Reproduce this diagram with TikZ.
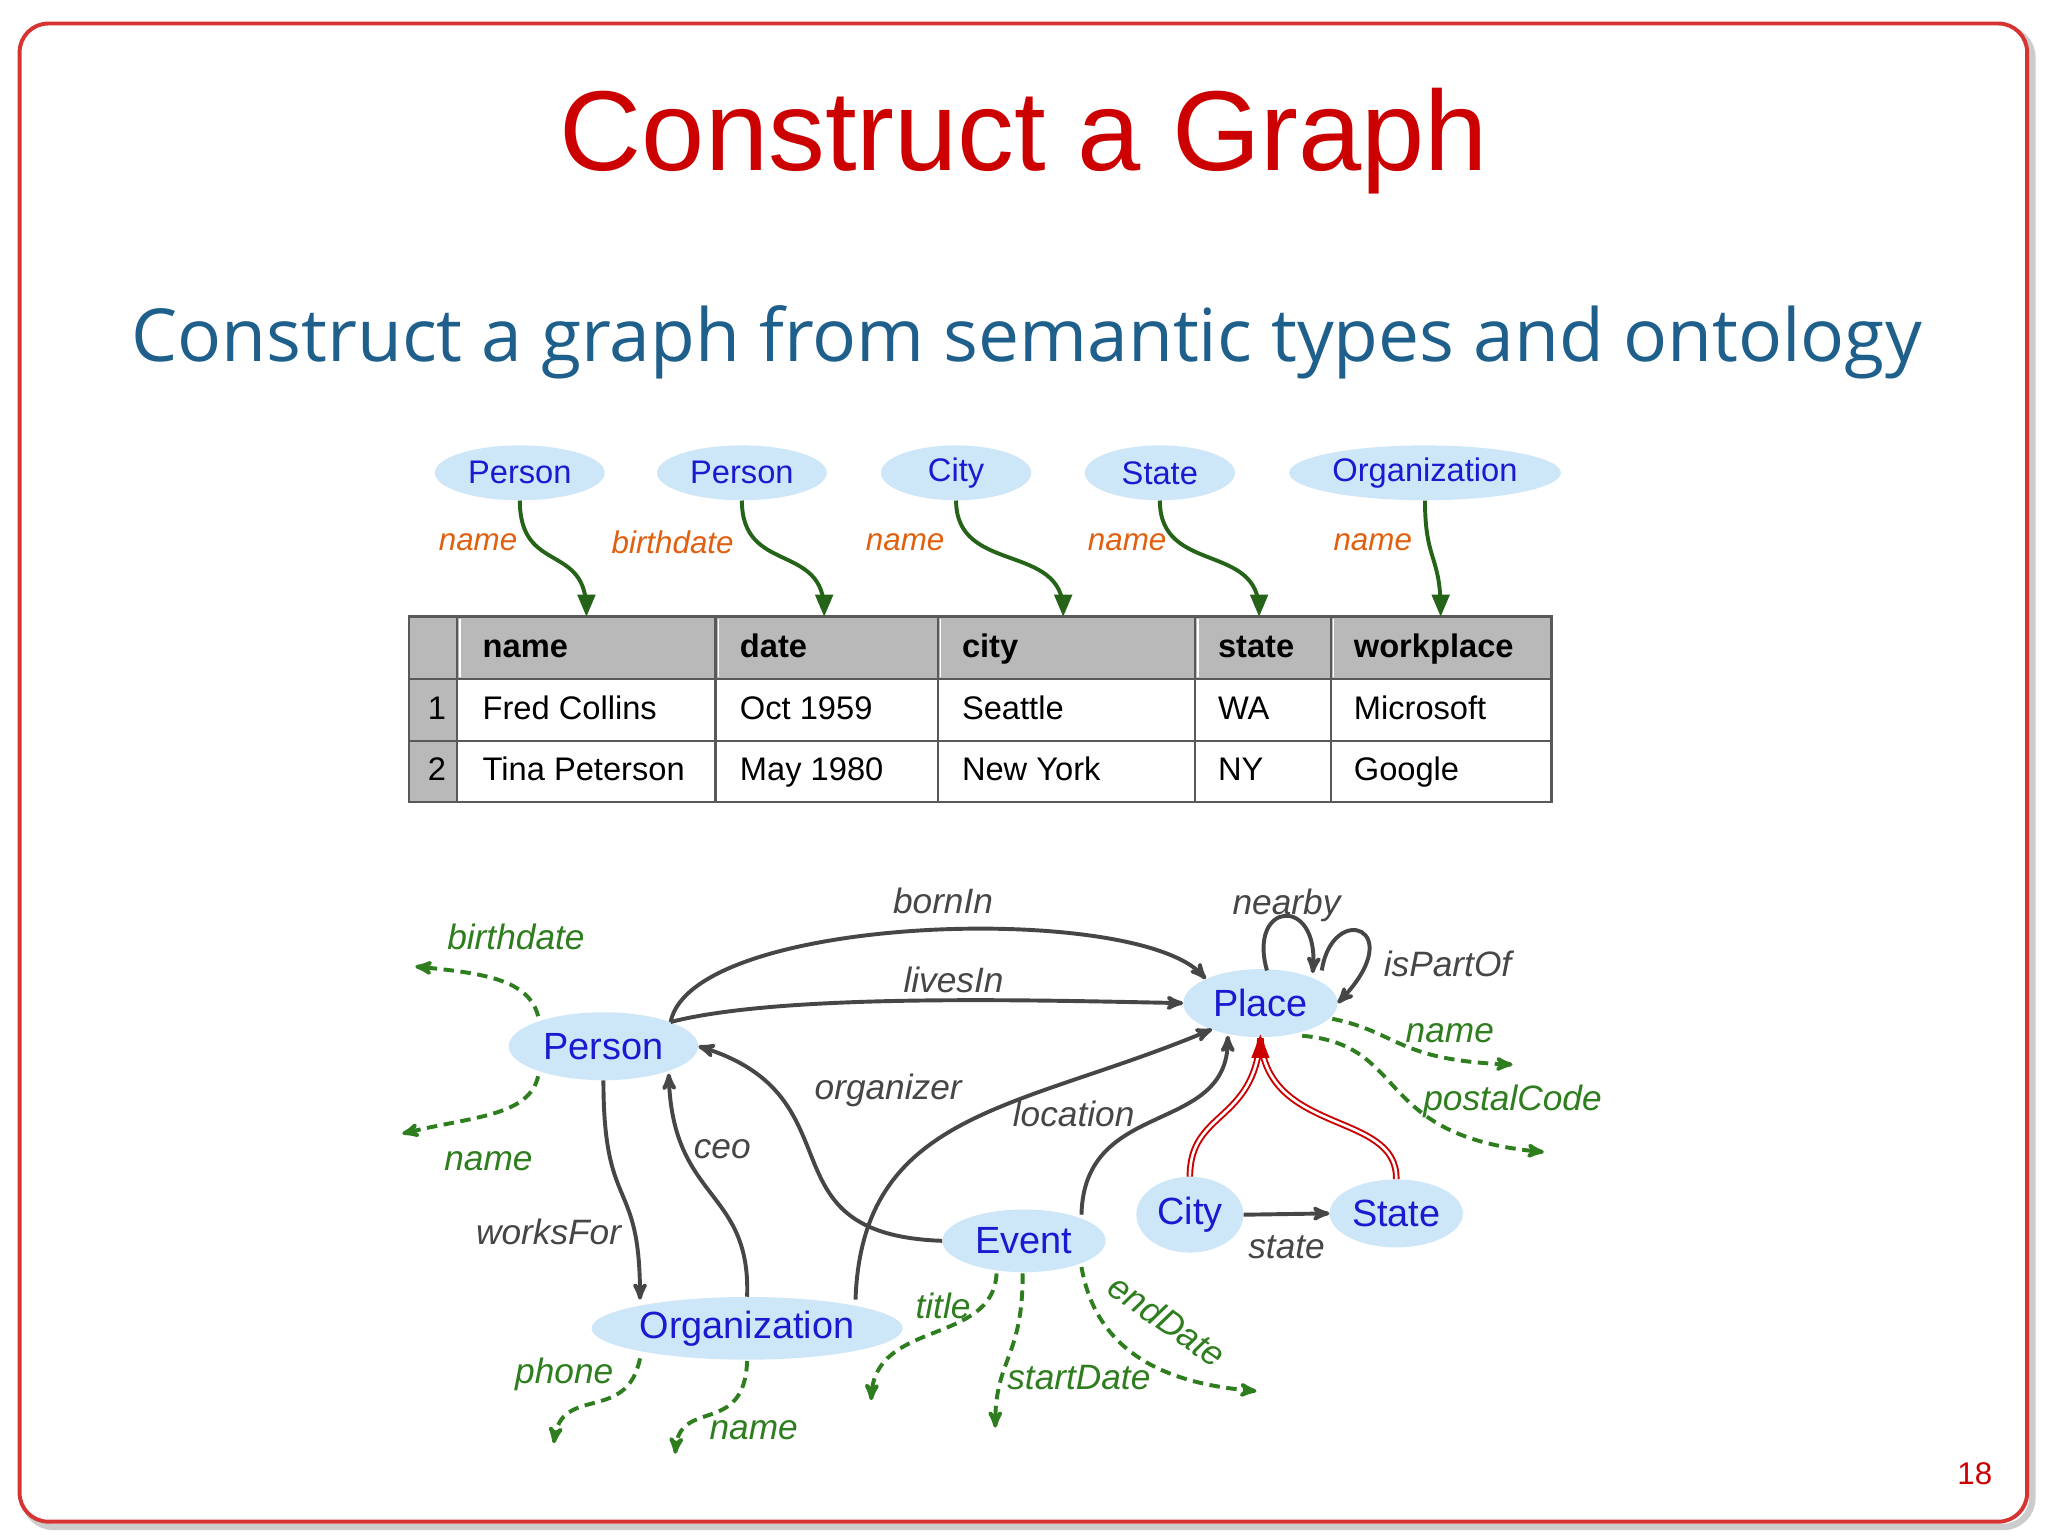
\documentclass[tikz,border=0pt]{standalone}
\usepackage{fontspec}
\setmainfont{Liberation Sans}
\newfontfamily\subfont{Open Sans}
\usetikzlibrary{calc,arrows,positioning,shapes.geometric}
\definecolor{nodefill}{HTML}{CDE6F8}
\definecolor{nodetext}{HTML}{1A1AD0}
\definecolor{edgegray}{HTML}{464646}
\definecolor{propgreen}{HTML}{2E7D1E}
\definecolor{typeorange}{HTML}{E06010}
\definecolor{titlered}{HTML}{CC0000}
\definecolor{subblue}{HTML}{1F5F8B}
\tikzset{
    >=stealth',
    semtype/.style={
        ellipse,
        fill=nodefill,
        text=nodetext,
        inner sep=1pt,
        font=\fontsize{25}{28}\selectfont
    },
    gnode/.style={
        ellipse,
        fill=nodefill,
        text=nodetext,
        inner sep=2pt,
        font=\fontsize{29}{32}\selectfont
    },
    edge/.style={draw=edgegray, line width=3pt, ->},
    prop/.style={draw=propgreen, line width=3pt, dashed, dash pattern=on 8pt off 5pt, ->},
    map/.style={draw=propgreen!80!black, line width=3pt, -triangle 45},
    elbl/.style={text=edgegray, font=\itshape\fontsize{27}{30}\selectfont},
    plbl/.style={text=propgreen, font=\itshape\fontsize{27}{30}\selectfont},
    tlbl/.style={text=typeorange, font=\itshape\fontsize{24}{28}\selectfont},
    cell/.style={anchor=west, text height=18pt, text depth=5pt, font=\fontsize{25}{28}\selectfont}
}
\begin{document}
\begin{tikzpicture}[x=1pt,y=-1pt]
\useasboundingbox (0,0) rectangle (1568,1176);
% frame and titles
\draw[gray!40, line width=5pt, rounded corners=22pt] (19,22) rectangle (1556,1169);
\draw[titlered!80, fill=white, line width=3pt, rounded corners=22pt] (15,18) rectangle (1552,1165);
\node[text=titlered, font=\fontsize{87}{92}\selectfont] (title) at (784,108) {Construct a Graph};
\node[text=subblue, font=\subfont\fontsize{56}{62}\selectfont] (subtitle) at (786,262) {Construct a graph from semantic types and ontology};
\node[text=titlered, font=\fontsize{24}{26}\selectfont] (pageno) at (1512,1128) {18};

% semantic types
\node[semtype, minimum width=130pt, minimum height=42pt] (t1) at (398,362) {Person};
\node[semtype, minimum width=130pt, minimum height=42pt] (t2) at (568,362) {Person};
\node[semtype, minimum width=115pt, minimum height=42pt] (t3) at (732,362) {City};
\node[semtype, minimum width=115pt, minimum height=42pt] (t4) at (888,362) {State};
\node[semtype, minimum width=208pt, minimum height=42pt] (t5) at (1091,362) {Organization};
\node[tlbl] (l1) at (366,415) {name};
\node[tlbl] (l2) at (515,415) {birthdate};
\node[tlbl] (l3) at (693,415) {name};
\node[tlbl] (l4) at (863,415) {name};
\node[tlbl] (l5) at (1051,415) {name};

% table
\fill[gray!55] (313,472) rectangle (1188,520);
\fill[gray!55] (313,520) rectangle (350,614);
\draw[gray!70!black, line width=2pt] (313,472) rectangle (1188,614);
\foreach \y in {520,567} \draw[gray!70!black, line width=1.5pt] (313,\y) -- (1188,\y);
\foreach \x in {350,548,718,915,1019} \draw[gray!70!black, line width=2pt] (\x,472) -- (\x,614);
\foreach \x in {352,550,720,917,1021} \draw[white, line width=1.2pt] (\x,474) -- (\x,518);
\node[cell, font=\bfseries\fontsize{25}{28}\selectfont] (h1) at (366,497) {name};
\node[cell, font=\bfseries\fontsize{25}{28}\selectfont] (h2) at (563,497) {date};
\node[cell, font=\bfseries\fontsize{25}{28}\selectfont] (h3) at (733,497) {city};
\node[cell, font=\bfseries\fontsize{25}{28}\selectfont] (h4) at (929,497) {state};
\node[cell, font=\bfseries\fontsize{25}{28}\selectfont] (h5) at (1033,497) {workplace};
\node[cell] (i1) at (324,544) {1};
\node[cell] (i2) at (324,591) {2};
\node[cell] (a1) at (366,544) {Fred Collins};
\node[cell] (b1) at (563,544) {Oct 1959};
\node[cell] (c1) at (733,544) {Seattle};
\node[cell] (d1) at (929,544) {WA};
\node[cell] (e1) at (1033,544) {Microsoft};
\node[cell] (a2) at (366,591) {Tina Peterson};
\node[cell] (b2) at (563,591) {May 1980};
\node[cell] (c2) at (733,591) {New York};
\node[cell] (d2) at (929,591) {NY};
\node[cell] (e2) at (1033,591) {Google};
\coordinate (m1) at (449,472);
\coordinate (m2) at (631,472);
\coordinate (m3) at (814,472);
\coordinate (m4) at (964,472);
\coordinate (m5) at (1103,472);
\path[map] (t1.south) .. controls (398,440) and (449,415) .. (m1);
\path[map] (t2.south) .. controls (568,440) and (631,415) .. (m2);
\path[map] (t3.south) .. controls (732,440) and (814,415) .. (m3);
\path[map] (t4.south) .. controls (888,440) and (964,415) .. (m4);
\path[map] (t5.south) .. controls (1091,430) and (1103,425) .. (m5);

% ontology graph
\node[gnode, minimum width=145pt, minimum height=52pt] (person) at (462,801) {Person};
\node[gnode, minimum width=118pt, minimum height=52pt] (place) at (965,768) {Place};
\node[gnode, minimum width=235pt, minimum height=48pt] (org) at (572,1017) {Organization};
\node[gnode, minimum width=125pt, minimum height=48pt] (event) at (784,950) {Event};
\node[gnode, minimum width=82pt, minimum height=58pt] (city) at (911,930) {City};
\node[gnode, minimum width=102pt, minimum height=52pt] (state) at (1069,929) {State};

\path[edge] (person.north east) .. controls (530,700) and (870,690) .. (place.north west);
\node[elbl] (bornin) at (722,690) {bornIn};
\path[edge] (person.north east) .. controls (600,760) and (800,766) .. (place.west);
\node[elbl] (livesin) at (730,750) {livesIn};
\path[edge] (970,743) .. controls (955,690) and (1010,685) .. (1005,745);
\node[elbl] (nearby) at (985,693) {nearby};
\path[edge] (1012,743) .. controls (1020,690) and (1080,710) .. (place.east);
\node[elbl, anchor=west] (ispartof) at (1056,738) {isPartOf};
\path[edge] (event.west) .. controls (580,945) and (660,840) .. (person.east);
\node[elbl] (organizer) at (680,835) {organizer};
\path[edge] (655,995) .. controls (660,850) and (780,850) .. (928,788);
\path[edge] (828,930) .. controls (830,840) and (940,870) .. (940,793);
\node[elbl] (location) at (822,853) {location};
\path[edge] (org.north) .. controls (575,910) and (515,920) .. (512,822);
\node[elbl] (ceo) at (553,880) {ceo};
\path[edge] (person.south) .. controls (462,930) and (490,900) .. (490,995);
\node[elbl] (worksfor) at (420,943) {worksFor};
\path[edge] (city.east) -- (state.west);
\node[elbl] (stateedge) at (985,955) {state};
\draw[titlered, line width=5pt] (city.north) .. controls (911,850) and (960,860) .. (965,795);
\draw[white, line width=2pt] (city.north) .. controls (911,850) and (960,860) .. (965,795);
\draw[titlered, line width=5pt] (state.north) .. controls (1070,850) and (970,870) .. (965,795);
\draw[white, line width=2pt] (state.north) .. controls (1070,850) and (970,870) .. (965,795);
\fill[titlered] (965,792) -- (958,810) -- (972,810) -- cycle;

% data properties
\coordinate (pbd) at (318,740);
\coordinate (pnm) at (308,868);
\coordinate (lnm) at (1158,815);
\coordinate (lpc) at (1182,882);
\coordinate (etl) at (667,1072);
\coordinate (esd) at (762,1093);
\coordinate (eed) at (962,1065);
\coordinate (oph) at (424,1105);
\coordinate (onm) at (517,1113);
\path[prop] (412,778) .. controls (405,750) and (370,745) .. (pbd);
\node[plbl] (birthdate) at (395,717) {birthdate};
\path[prop] (412,824) .. controls (405,855) and (360,855) .. (pnm);
\node[plbl] (pname) at (374,889) {name};
\path[prop] (1020,780) .. controls (1070,790) and (1070,812) .. (lnm);
\node[plbl] (plname) at (1110,791) {name};
\path[prop] (997,793) .. controls (1080,800) and (1050,870) .. (lpc);
\node[plbl] (postal) at (1158,843) {postalCode};
\path[prop] (763,975) .. controls (760,1030) and (670,1010) .. (etl);
\node[plbl] (title) at (722,1000) {title};
\path[prop] (783,975) .. controls (783,1040) and (762,1040) .. (esd);
\node[plbl] (startdate) at (826,1055) {startDate};
\path[prop] (828,970) .. controls (840,1040) and (900,1060) .. (eed);
\node[plbl, rotate=-35] (enddate) at (894,1011) {endDate};
\path[prop] (490,1040) .. controls (480,1090) and (430,1060) .. (oph);
\node[plbl] (phone) at (432,1052) {phone};
\path[prop] (572,1042) .. controls (570,1100) and (520,1070) .. (onm);
\node[plbl] (oname) at (577,1095) {name};
\end{tikzpicture}
\end{document}
